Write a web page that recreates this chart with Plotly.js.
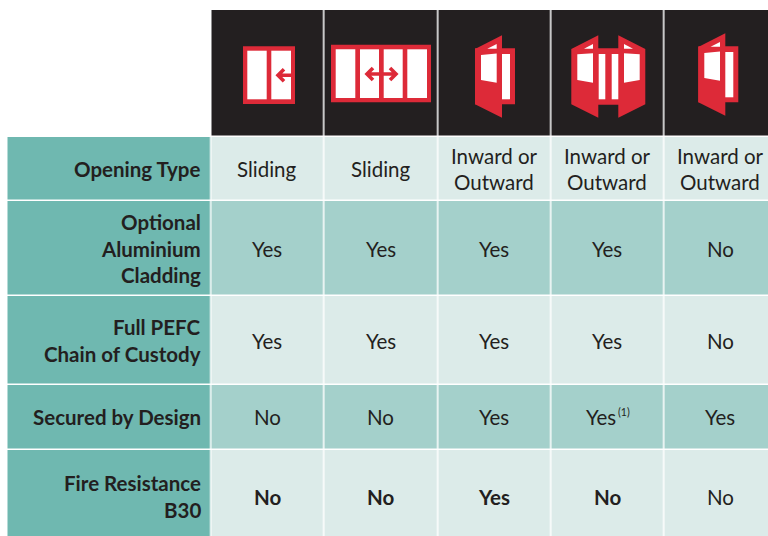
<!DOCTYPE html>
<html><head><meta charset="utf-8">
<script src="https://cdn.plot.ly/plotly-3.0.1.min.js"></script>
<style>html,body{margin:0;padding:0;background:#fff}#c{width:768px;height:536px}</style>
</head><body><div id="c"></div>
<script>
// ---- table content ----
const rowLabels = ["Opening Type","Optional\nAluminium\nCladding","Full PEFC\nChain of Custody","Secured by Design","Fire Resistance\nB30"];
const col1 = ["Sliding","Yes","Yes","No","No"];
const col2 = ["Sliding","Yes","Yes","No","No"];
const col3 = ["Inward or\nOutward","Yes","Yes","Yes","Yes"];
const col4 = ["Inward or\nOutward","Yes","Yes","Yes","No"];
const col5 = ["Inward or\nOutward","No","No","Yes","No"];
const columns = [col1,col2,col3,col4,col5];
const boldCells = ["4,0","4,1","4,2","4,3"];
const footnote = "(1)";

// ---- layout of the grid ----
const xEdges = [7.5,211.25,324.5,438.25,551.25,664.75,777];
const yEdges = [10,136.75,201,296.25,385.25,449.5,544];
const W=768,H=536,LINE=26.6;
const FONT='Lato, "Open Sans", sans-serif', INK='#231f20', RED='#dd2a38';
const TEAL=1,LIGHT=2,MID=3,BLACK=4;
const z=[
 [null,BLACK,BLACK,BLACK,BLACK,BLACK],
 [TEAL,LIGHT,LIGHT,LIGHT,LIGHT,LIGHT],
 [TEAL,MID,MID,MID,MID,MID],
 [TEAL,LIGHT,LIGHT,LIGHT,LIGHT,LIGHT],
 [TEAL,MID,MID,MID,MID,MID],
 [TEAL,LIGHT,LIGHT,LIGHT,LIGHT,LIGHT]];
const colorscale=[[0,'#6fb8b0'],[1/3,'#dcebe9'],[2/3,'#a4d0cb'],[1,'#231f20']];
const grid={type:'heatmap',x:xEdges,y:yEdges,z,zmin:1,zmax:4,colorscale,showscale:false,xgap:1.5,ygap:1.5,hoverinfo:'skip'};

// ---- text ----
const ann=[];
function put(text,x,yc,anchor,size,weight){
  text.split('\n').forEach((t,i,a)=>ann.push({text:t,x,y:yc+LINE*(i-(a.length-1)/2),xref:'x',yref:'y',xanchor:anchor,yanchor:'middle',showarrow:false,
    font:{family:FONT,size,color:INK,weight}}));
}
rowLabels.forEach((t,r)=>put(t,202.5,(yEdges[r+1]+yEdges[r+2])/2,'right',20.5,700));
columns.forEach((col,c)=>col.forEach((t,r)=>{
  const b=boldCells.includes(r+','+c);
  const nudge=(r===3&&c===3)?-7:-0.6;
  put(t,(xEdges[c+1]+xEdges[c+2])/2+nudge,(yEdges[r+1]+yEdges[r+2])/2,'center',20.5,b?700:400);
}));
put(footnote,623.5,412,'center',10.5,400);

// ---- header pictograms ----
function solid(path,fill){return {type:'path',xref:'x',yref:'y',path,fillcolor:fill,line:{width:0},layer:'above'};}
function rect(a,b,c,d){return `M${a} ${b}L${c} ${b}L${c} ${d}L${a} ${d}Z`;}
function arrow(path){return {type:'path',xref:'x',yref:'y',path,line:{color:RED,width:3.6},layer:'above'};}
const shapes=[
 solid(rect(243,46.3,295,104),RED),
 solid(rect(247.3,50.7,266.7,99.3),'#fff'), solid(rect(271.3,50.7,291,99.3),'#fff'),
 arrow('M291 75.3L278 75.3M284 69.3L278 75.3L284 81.3'),

 solid(rect(331,44.7,431,102.3),RED),
 solid(rect(335.7,49.3,355.3,98),'#fff'), solid(rect(360,49.3,379,98),'#fff'),
 solid(rect(383.7,49.3,402.7,98),'#fff'), solid(rect(407.3,49.3,427,98),'#fff'),
 arrow('M367 74L396 74M373 68L367 74L373 80M390 68L396 74L390 80'),
];
function singleDoor(dx,dy){
  const p=(a)=>'M'+a.map(q=>(q[0]+dx).toFixed(1)+' '+(q[1]+dy).toFixed(1)).join('L')+'Z';
  shapes.push(solid(p([[475,48.3],[515,48.3],[515,104.3],[475,104.3]]),RED));
  shapes.push(solid(p([[475,49],[502,35.3],[502,117.7],[475,104.3]]),RED));
  shapes.push(solid(p([[502,54],[510,54],[510,99.3],[502,99.3]]),'#fff'));
  shapes.push(solid(p([[481,55],[496.7,53.5],[496.7,82.7],[481,80]]),'#fff'));
  shapes.push(solid(p([[487.3,48.7],[496.7,44],[496.7,48.7]]),'#fff'));
}
singleDoor(0,0);
singleDoor(223.3,-2);
shapes.push(
 solid('M571.3 49L598.3 35.3L598.3 48.3L618.3 48.3L618.3 35.3L645.3 49L645.3 104.3L618.3 117.7L618.3 104.7L598.3 104.7L598.3 117.7L571.3 104.3Z',RED),
 solid(rect(598.7,54,605.3,99.3),'#fff'), solid(rect(611.7,54,618.3,99.3),'#fff'),
 solid('M577.3 54.3L593 53.3L593 82.7L577.3 80Z','#fff'),
 solid('M624 53.3L639.7 54.3L639.7 80L624 82.7Z','#fff'),
 solid('M584 48.7L593 44L593 48.7Z','#fff'),
 solid('M624 44L633 48.7L624 48.7Z','#fff'));

Plotly.newPlot('c',[grid],{
  width:W,height:H,margin:{l:0,r:0,t:0,b:0},paper_bgcolor:'#fff',plot_bgcolor:'#fff',showlegend:false,
  xaxis:{range:[0,W],visible:false,fixedrange:true},
  yaxis:{range:[H,0],visible:false,fixedrange:true},
  annotations:ann,shapes
},{displayModeBar:false,staticPlot:true});
</script></body></html>
